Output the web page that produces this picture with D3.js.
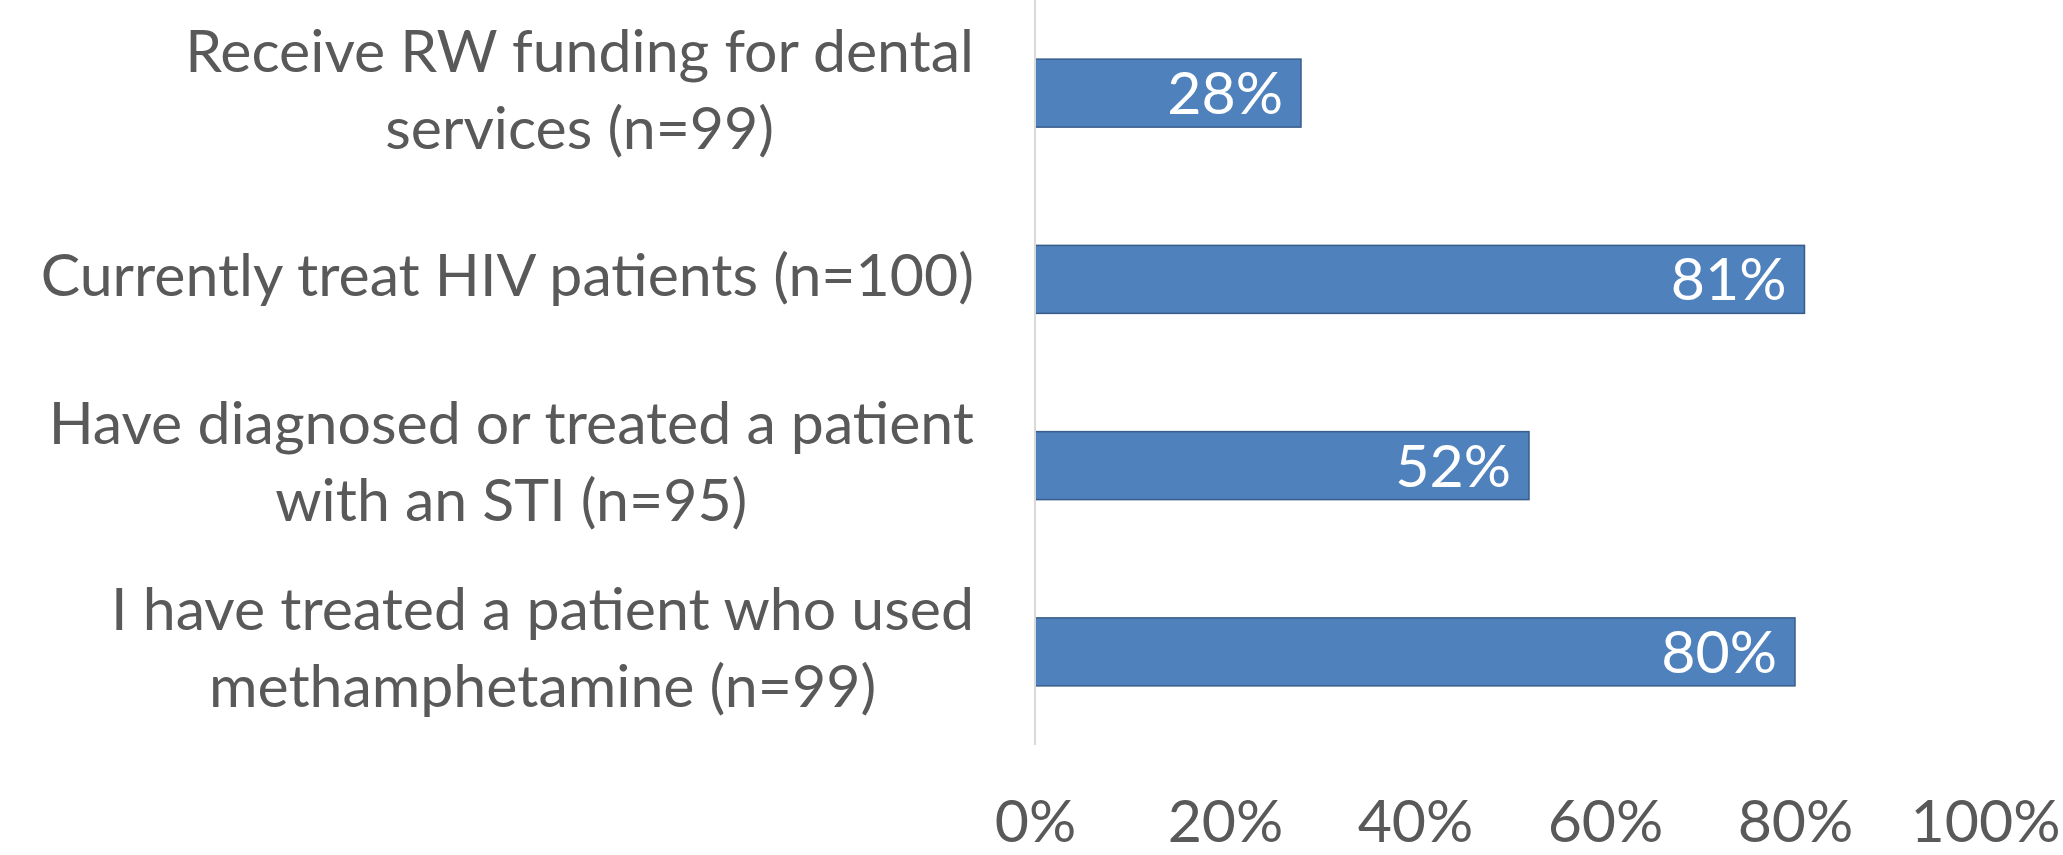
<!DOCTYPE html>
<html>
<head>
<meta charset="utf-8">
<script src="https://cdn.jsdelivr.net/npm/d3@7"></script>
<style>
  html, body { margin: 0; padding: 0; background: #fff; }
  svg { display: block; }
  text { font-family: Lato, "Open Sans", sans-serif; }
</style>
</head>
<body>
<svg id="chart" width="2063" height="855"></svg>
<script>
const categories = [
  ["Receive RW funding for dental", "services (n=99)"],
  ["Currently treat HIV patients (n=100)"],
  ["Have diagnosed or treated a patient", "with an STI (n=95)"],
  ["I have treated a patient who used", "methamphetamine (n=99)"]
];
const values = [0.28, 0.81, 0.52, 0.80];
const tickValues = [0, 0.2, 0.4, 0.6, 0.8, 1.0];

const W = 2063, H = 855;
const plot = { left: 1035, right: 1985, top: 0, bottom: 745 };
const fontSize = 59;
const textColor = "#595959";

const svg = d3.select("#chart");

const x = d3.scaleLinear().domain([0, 1]).range([plot.left, plot.right]);
const y = d3.scaleBand().domain(d3.range(categories.length))
  .range([plot.top, plot.bottom]).paddingInner(0.635).paddingOuter(0.3175);

// bars
svg.append("g").selectAll("rect").data(values).join("rect")
  .attr("x", x(0))
  .attr("y", (d, i) => y(i))
  .attr("width", d => x(d) - x(0))
  .attr("height", y.bandwidth())
  .attr("fill", "#4f81bd")
  .attr("stroke", "#385d8a")
  .attr("stroke-width", 1.5);

// vertical axis line
svg.append("line")
  .attr("x1", x(0)).attr("x2", x(0))
  .attr("y1", plot.top).attr("y2", plot.bottom)
  .attr("stroke", "#d9d9d9").attr("stroke-width", 2);

// value labels
svg.append("g").selectAll("text").data(values).join("text")
  .attr("x", d => x(d) - 18)
  .attr("y", (d, i) => y(i) + y.bandwidth() / 2 + 21)
  .attr("text-anchor", "end")
  .attr("fill", "#ffffff")
  .attr("font-size", fontSize)
  .text(d => Math.round(d * 100) + "%");

// x axis tick labels
const xAxis = d3.axisBottom(x).tickValues(tickValues)
  .tickFormat(d => Math.round(d * 100) + "%").tickSize(0).tickPadding(0);
const gx = svg.append("g").attr("transform", `translate(0, 842)`).call(xAxis);
gx.select(".domain").remove();
gx.selectAll("text")
  .attr("y", 0).attr("dy", 0)
  .attr("fill", textColor)
  .attr("font-size", fontSize)
  .style("font-family", "Lato, 'Open Sans', sans-serif");

// category labels: block right-aligned, lines centered within block
const labelRight = 974;
const lineGap = 77;
const catG = svg.append("g");
categories.forEach((lines, i) => {
  const c = y(i) + y.bandwidth() / 2;
  const t = catG.append("text")
    .attr("fill", textColor)
    .attr("font-size", fontSize)
    .attr("text-anchor", "middle");
  const spans = lines.map((ln, j) => t.append("tspan")
    .attr("y", c + (j - (lines.length - 1) / 2) * lineGap + 17)
    .text(ln));
  const maxW = d3.max(spans, s => s.node().getComputedTextLength());
  spans.forEach(s => s.attr("x", labelRight - maxW / 2));
});
</script>
</body>
</html>
